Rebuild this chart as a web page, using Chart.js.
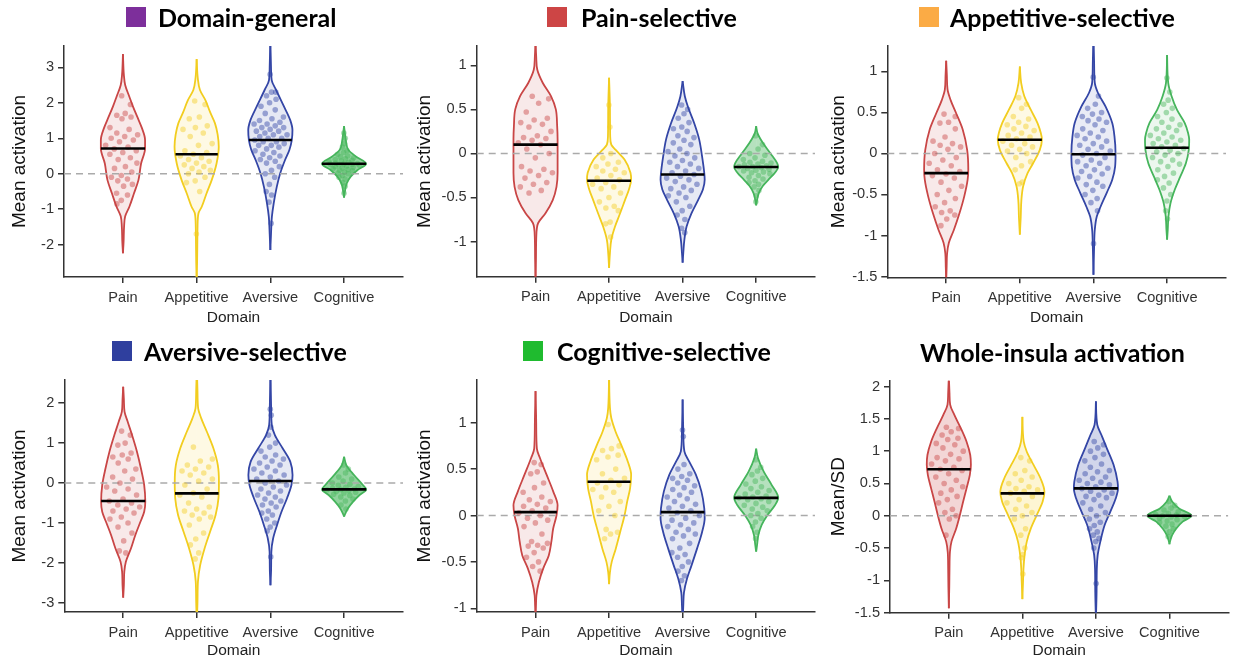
<!DOCTYPE html>
<html>
<head>
<meta charset="utf-8">
<script src="https://cdn.jsdelivr.net/npm/chart.js@4"></script>
<style>
  body { margin: 0; background: #fff; width: 1238px; height: 661px; position: relative; overflow: hidden; }
  canvas { position: absolute; }
  .ttl { position: absolute; height: 30px; line-height: 30px; display: flex; align-items: center;
         font: bold 25px Lato, sans-serif; color: #000; white-space: nowrap; }
  .sq { display: inline-block; width: 20px; height: 20px; }
</style>
</head>
<body>
<script>
// categories on the x axis
const domains = ['Pain', 'Appetitive', 'Aversive', 'Cognitive'];

const panelTitles = ['Domain-general', 'Pain-selective', 'Appetitive-selective',
                     'Aversive-selective', 'Cognitive-selective', 'Whole-insula activation'];
const yTitles = ['Mean activation', 'Mean activation', 'Mean activation',
                 'Mean activation', 'Mean activation', 'Mean/SD'];

// y axis ranges and tick values per panel
const yRanges = [[-2.91, 3.6], [-1.4, 1.22], [-1.51, 1.31], [-3.23, 2.58], [-1.04, 1.46], [-1.5, 2.09]];
const yTicks = [
  [-2, -1, 0, 1, 2, 3],
  [-1, -0.5, 0, 0.5, 1],
  [-1.5, -1, -0.5, 0, 0.5, 1],
  [-3, -2, -1, 0, 1, 2],
  [-1, -0.5, 0, 0.5, 1],
  [-1.5, -1, -0.5, 0, 0.5, 1, 1.5, 2]
];

// medians (black bars), order Pain, Appetitive, Aversive, Cognitive
const medians = [
  [0.71, 0.55, 0.95, 0.28],
  [0.10, -0.31, -0.24, -0.155],
  [-0.24, 0.167, -0.01, 0.07],
  [-0.45, -0.26, 0.05, -0.16],
  [0.036, 0.364, 0.036, 0.19],
  [0.72, 0.346, 0.424, 0.0]
];

// violin density outlines: [value, relative half width]
const shapesGeneral = [
  [[-2.24,0],[-1.9,0.03],[-1.5,0.05],[-1.2,0.1],[-0.93,0.29],[-0.55,0.5],[-0.18,0.7],[0.29,0.82],[0.71,1.0],[0.95,1.0],[1.3,0.85],[1.6,0.65],[1.9,0.45],[2.17,0.29],[2.5,0.1],[2.8,0.04],[3.37,0]],
  [[-3.0,0],[-2.5,0.02],[-2.0,0.03],[-1.5,0.04],[-1.12,0.08],[-0.93,0.23],[-0.55,0.45],[-0.18,0.68],[0.29,0.9],[0.76,1.0],[1.1,0.95],[1.42,0.83],[1.75,0.6],[2.07,0.4],[2.36,0.15],[2.7,0.05],[3.23,0]],
  [[-2.15,0],[-1.7,0.03],[-1.21,0.07],[-0.84,0.15],[-0.37,0.29],[0.0,0.44],[0.38,0.66],[0.67,0.86],[0.95,0.97],[1.23,1.0],[1.51,0.9],[1.89,0.62],[2.36,0.26],[2.64,0.06],[3.0,0.03],[3.75,0]],
  [[-0.67,0],[-0.46,0.05],[-0.27,0.12],[-0.08,0.3],[0.1,0.6],[0.28,1.0],[0.48,0.55],[0.67,0.2],[0.95,0.08],[1.14,0.04],[1.34,0]]
];
const shapesPain = [
  [[-1.45,0],[-1.2,0.02],[-0.98,0.03],[-0.85,0.06],[-0.79,0.12],[-0.68,0.45],[-0.53,0.78],[-0.38,0.95],[-0.22,1.0],[0.16,1.0],[0.31,0.98],[0.5,0.92],[0.65,0.7],[0.8,0.33],[0.95,0.08],[1.1,0.03],[1.32,0]],
  [[-1.3,0],[-1.13,0.04],[-0.98,0.1],[-0.83,0.27],[-0.68,0.5],[-0.53,0.72],[-0.41,0.9],[-0.3,1.0],[-0.22,0.97],[-0.07,0.7],[0.04,0.3],[0.1,0.1],[0.2,0.05],[0.5,0.04],[0.86,0]],
  [[-1.24,0],[-1.13,0.03],[-0.98,0.08],[-0.83,0.18],[-0.68,0.4],[-0.53,0.7],[-0.41,0.92],[-0.3,1.0],[-0.22,0.98],[-0.03,0.88],[0.16,0.75],[0.34,0.53],[0.53,0.24],[0.65,0.1],[0.82,0]],
  [[-0.59,0],[-0.53,0.04],[-0.45,0.12],[-0.37,0.3],[-0.3,0.55],[-0.22,0.85],[-0.155,1.0],[-0.11,0.95],[0.0,0.65],[0.12,0.3],[0.23,0.06],[0.31,0]]
];
const shapesAppetitive = [
  [[-1.55,0],[-1.38,0.02],[-1.22,0.04],[-1.09,0.12],[-0.93,0.35],[-0.73,0.6],[-0.52,0.82],[-0.32,0.97],[-0.2,1.0],[0.04,0.95],[0.29,0.75],[0.49,0.45],[0.65,0.2],[0.78,0.06],[0.95,0.03],[1.13,0]],
  [[-0.99,0],[-0.78,0.04],[-0.57,0.07],[-0.4,0.15],[-0.24,0.35],[-0.12,0.6],[0.04,0.9],[0.17,1.0],[0.25,0.95],[0.37,0.8],[0.53,0.5],[0.7,0.2],[0.86,0.06],[1.06,0]],
  [[-1.48,0],[-1.13,0.03],[-0.93,0.06],[-0.77,0.15],[-0.65,0.32],[-0.48,0.6],[-0.32,0.85],[-0.16,0.98],[0.0,1.0],[0.21,0.95],[0.37,0.85],[0.57,0.55],[0.74,0.2],[0.86,0.06],[1.1,0.03],[1.45,0]],
  [[-1.05,0],[-0.93,0.03],[-0.77,0.06],[-0.61,0.15],[-0.44,0.35],[-0.28,0.6],[-0.12,0.85],[0.04,0.98],[0.17,1.0],[0.25,0.95],[0.37,0.8],[0.53,0.45],[0.7,0.2],[0.86,0.05],[1.2,0]]
];
const shapesAversive = [
  [[-2.87,0],[-2.56,0.03],[-2.22,0.05],[-1.97,0.12],[-1.64,0.35],[-1.3,0.55],[-0.97,0.78],[-0.72,0.95],[-0.47,1.0],[-0.05,0.95],[0.37,0.8],[0.79,0.62],[1.2,0.4],[1.54,0.2],[1.79,0.06],[2.1,0.03],[2.41,0]],
  [[-3.5,0],[-2.97,0.03],[-2.47,0.05],[-2.06,0.15],[-1.64,0.35],[-1.22,0.6],[-0.8,0.85],[-0.38,0.98],[0.03,1.0],[0.45,0.95],[0.87,0.75],[1.29,0.45],[1.62,0.2],[1.87,0.06],[2.3,0.03],[2.9,0]],
  [[-2.56,0],[-2.14,0.03],[-1.72,0.04],[-1.39,0.12],[-1.05,0.3],[-0.72,0.5],[-0.38,0.75],[-0.05,0.95],[0.2,1.0],[0.53,0.9],[0.87,0.55],[1.2,0.2],[1.45,0.06],[1.9,0.03],[2.8,0]],
  [[-0.84,0],[-0.76,0.06],[-0.63,0.18],[-0.47,0.4],[-0.3,0.7],[-0.16,1.0],[-0.05,0.85],[0.2,0.45],[0.45,0.1],[0.66,0]]
];
const shapesCognitive = [
  [[-1.1,0],[-0.97,0.02],[-0.86,0.04],[-0.72,0.15],[-0.57,0.35],[-0.43,0.6],[-0.28,0.72],[-0.14,0.8],[0.0,0.95],[0.11,1.0],[0.26,0.8],[0.44,0.5],[0.62,0.2],[0.72,0.06],[1.0,0.03],[1.34,0]],
  [[-0.74,0],[-0.61,0.04],[-0.5,0.12],[-0.36,0.3],[-0.18,0.5],[0.0,0.7],[0.15,0.82],[0.29,0.95],[0.44,1.0],[0.58,0.85],[0.76,0.55],[0.9,0.3],[1.05,0.1],[1.16,0.04],[1.55,0]],
  [[-1.15,0],[-0.97,0.03],[-0.83,0.06],[-0.68,0.2],[-0.54,0.4],[-0.36,0.65],[-0.18,0.88],[-0.03,1.0],[0.08,0.98],[0.26,0.85],[0.44,0.6],[0.58,0.3],[0.69,0.08],[0.9,0.03],[1.25,0]],
  [[-0.39,0],[-0.32,0.04],[-0.21,0.1],[-0.1,0.25],[0.0,0.5],[0.11,0.85],[0.19,1.0],[0.33,0.7],[0.47,0.35],[0.62,0.08],[0.72,0]]
];
const shapesWhole = [
  [[-1.43,0],[-1.1,0.02],[-0.82,0.03],[-0.56,0.05],[-0.4,0.12],[-0.2,0.33],[0.01,0.5],[0.22,0.65],[0.42,0.8],[0.63,0.95],[0.79,1.0],[0.94,0.97],[1.15,0.8],[1.35,0.55],[1.56,0.25],[1.72,0.06],[1.9,0.03],[2.15,0]],
  [[-1.29,0],[-1.02,0.03],[-0.82,0.05],[-0.61,0.1],[-0.4,0.2],[-0.2,0.38],[0.01,0.65],[0.22,0.92],[0.37,1.0],[0.58,0.82],[0.79,0.5],[0.99,0.2],[1.15,0.06],[1.53,0]],
  [[-1.6,0],[-1.18,0.03],[-0.82,0.04],[-0.61,0.08],[-0.4,0.2],[-0.14,0.4],[0.06,0.65],[0.27,0.9],[0.42,1.0],[0.53,0.98],[0.79,0.8],[1.04,0.5],[1.25,0.25],[1.41,0.06],[1.77,0]],
  [[-0.44,0],[-0.38,0.04],[-0.3,0.12],[-0.2,0.3],[-0.09,0.6],[0.0,1.0],[0.11,0.45],[0.22,0.12],[0.31,0]]
];

// individual subject values (a readable subset of the dots)
const pointsGeneral = [
  [2.2,1.95,1.7,1.65,1.6,1.55,1.3,1.25,1.15,1.1,1.05,1.0,0.95,0.9,0.8,0.75,0.7,0.65,0.6,0.55,0.45,0.4,0.3,0.2,0.15,0.05,-0.05,-0.1,-0.15,-0.2,-0.3,-0.35,-0.55,-0.6,-0.75,-0.85],
  [2.05,1.95,1.6,1.55,1.35,1.3,1.25,1.15,1.05,0.85,0.8,0.65,0.6,0.55,0.5,0.45,0.4,0.35,0.3,0.25,0.2,0.15,0.1,0.05,0.0,-0.1,-0.2,-0.25,-0.5,-1.7],
  [2.8,2.3,2.3,2.2,2.1,2.0,1.9,1.8,1.7,1.6,1.55,1.5,1.45,1.4,1.4,1.35,1.3,1.3,1.25,1.2,1.2,1.15,1.1,1.1,1.05,1.0,1.0,0.95,0.9,0.9,0.85,0.8,0.8,0.75,0.7,0.65,0.6,0.55,0.5,0.45,0.4,0.35,0.3,0.2,0.1,0.0,-0.1,-0.3,-0.5,-0.6,-0.8,-1.4],
  [1.15,1.0,0.85,0.75,0.65,0.6,0.55,0.5,0.48,0.45,0.42,0.4,0.38,0.36,0.34,0.32,0.3,0.29,0.28,0.27,0.26,0.25,0.24,0.22,0.2,0.18,0.16,0.14,0.12,0.1,0.08,0.05,0.02,0.0,-0.05,-0.1,-0.15,-0.25,-0.35,-0.55]
];
const pointsPain = [
  [0.65,0.62,0.57,0.47,0.4,0.38,0.35,0.33,0.3,0.25,0.2,0.18,0.17,0.15,0.12,0.1,0.05,0.0,-0.05,-0.15,-0.18,-0.2,-0.22,-0.25,-0.28,-0.33,-0.35,-0.38,-0.42,-0.45],
  [0.55,0.3,0.0,-0.05,-0.1,-0.12,-0.15,-0.18,-0.2,-0.22,-0.25,-0.28,-0.3,-0.33,-0.35,-0.38,-0.4,-0.45,-0.5,-0.55,-0.6,-0.62,-0.65,-0.78,-0.8,-0.95],
  [0.55,0.5,0.45,0.4,0.35,0.3,0.28,0.25,0.2,0.18,0.15,0.12,0.1,0.05,0.02,0.0,-0.03,-0.05,-0.08,-0.1,-0.12,-0.15,-0.17,-0.2,-0.22,-0.24,-0.26,-0.28,-0.3,-0.32,-0.35,-0.38,-0.4,-0.42,-0.45,-0.48,-0.5,-0.55,-0.6,-0.65,-0.7,-0.75,-0.85,-0.9],
  [0.2,0.1,0.05,0.0,-0.02,-0.05,-0.07,-0.09,-0.1,-0.11,-0.12,-0.13,-0.14,-0.15,-0.15,-0.16,-0.17,-0.18,-0.19,-0.2,-0.21,-0.22,-0.23,-0.25,-0.27,-0.29,-0.31,-0.33,-0.35,-0.38,-0.42,-0.48,-0.55]
];
const pointsAppetitive = [
  [0.48,0.45,0.38,0.37,0.3,0.2,0.15,0.12,0.1,0.08,0.05,0.0,-0.05,-0.08,-0.12,-0.15,-0.2,-0.22,-0.25,-0.27,-0.3,-0.35,-0.4,-0.45,-0.5,-0.55,-0.6,-0.65,-0.7,-0.72,-0.75,-0.8,-0.88],
  [0.68,0.6,0.55,0.45,0.42,0.38,0.35,0.33,0.3,0.28,0.25,0.22,0.2,0.18,0.15,0.12,0.1,0.08,0.05,0.03,0.0,-0.05,-0.1,-0.15,-0.2,-0.35,-0.37],
  [0.93,0.7,0.6,0.55,0.5,0.48,0.45,0.42,0.4,0.38,0.35,0.3,0.28,0.25,0.22,0.2,0.18,0.15,0.12,0.1,0.08,0.05,0.03,0.0,-0.02,-0.05,-0.08,-0.1,-0.12,-0.15,-0.18,-0.2,-0.22,-0.25,-0.28,-0.3,-0.35,-0.38,-0.4,-0.45,-0.5,-0.55,-0.6,-0.7,-1.1],
  [0.92,0.75,0.65,0.6,0.55,0.5,0.45,0.42,0.38,0.35,0.32,0.3,0.28,0.25,0.22,0.2,0.18,0.16,0.14,0.12,0.1,0.08,0.06,0.04,0.02,0.0,-0.02,-0.05,-0.08,-0.1,-0.13,-0.16,-0.2,-0.24,-0.28,-0.32,-0.36,-0.42,-0.5,-0.58,-0.7,-0.8]
];
const pointsAversive = [
  [1.3,1.2,1.0,0.95,0.75,0.7,0.65,0.6,0.5,0.35,0.3,0.15,0.1,0.0,-0.1,-0.15,-0.2,-0.3,-0.4,-0.45,-0.5,-0.55,-0.6,-0.65,-0.7,-0.75,-0.85,-0.9,-1.0,-1.1,-1.25,-1.45,-1.7,-1.75],
  [0.9,0.6,0.55,0.45,0.4,0.35,0.3,0.25,0.2,0.1,0.05,-0.05,-0.15,-0.25,-0.3,-0.35,-0.5,-0.6,-0.65,-0.7,-0.75,-0.8,-0.85,-0.9,-1.05,-1.25,-1.4,-1.55,-1.75,-1.9],
  [1.85,1.7,1.4,1.2,1.0,0.9,0.8,0.7,0.65,0.6,0.55,0.5,0.45,0.4,0.35,0.3,0.25,0.2,0.15,0.1,0.05,0.0,-0.05,-0.1,-0.15,-0.2,-0.25,-0.3,-0.35,-0.4,-0.45,-0.5,-0.55,-0.6,-0.7,-0.75,-0.8,-0.9,-1.0,-1.1,-1.2,-1.85],
  [0.45,0.35,0.25,0.15,0.1,0.05,0.0,-0.03,-0.06,-0.09,-0.11,-0.13,-0.15,-0.16,-0.17,-0.19,-0.21,-0.23,-0.25,-0.28,-0.31,-0.35,-0.4,-0.45,-0.55,-0.65]
];
const pointsCognitive = [
  [0.57,0.55,0.47,0.45,0.35,0.3,0.25,0.2,0.17,0.15,0.12,0.1,0.08,0.05,0.03,0.0,-0.03,-0.05,-0.08,-0.12,-0.2,-0.28,-0.3,-0.32,-0.33,-0.35,-0.4,-0.45,-0.5,-0.55,-0.6],
  [0.98,0.75,0.72,0.7,0.65,0.63,0.6,0.5,0.45,0.4,0.38,0.35,0.33,0.3,0.28,0.25,0.2,0.15,0.1,0.05,0.0,-0.15,-0.18,-0.2,-0.25],
  [0.92,0.85,0.55,0.5,0.45,0.42,0.4,0.38,0.35,0.32,0.3,0.28,0.25,0.22,0.2,0.18,0.15,0.12,0.1,0.08,0.05,0.03,0.0,-0.03,-0.05,-0.08,-0.1,-0.12,-0.15,-0.18,-0.2,-0.22,-0.25,-0.3,-0.35,-0.4,-0.42,-0.45,-0.5,-0.55,-0.6,-0.65,-0.7],
  [0.6,0.52,0.48,0.44,0.4,0.37,0.34,0.31,0.29,0.27,0.25,0.23,0.21,0.2,0.19,0.18,0.17,0.15,0.13,0.11,0.09,0.07,0.05,0.02,0.0,-0.03,-0.07,-0.12,-0.18,-0.25]
];
const pointsWhole = [
  [1.37,1.35,1.3,1.25,1.2,1.18,1.12,1.1,1.05,1.0,0.95,0.9,0.88,0.85,0.8,0.75,0.72,0.7,0.65,0.6,0.55,0.5,0.45,0.4,0.35,0.3,0.25,0.2,0.1,0.05,0.0,-0.05,-0.3],
  [0.9,0.85,0.7,0.65,0.6,0.55,0.5,0.45,0.42,0.4,0.38,0.35,0.3,0.25,0.2,0.15,0.1,0.05,0.0,-0.05,-0.2,-0.3,-0.5,-0.6,-0.65,-0.9],
  [1.15,1.1,1.05,1.0,0.95,0.9,0.85,0.8,0.75,0.7,0.68,0.65,0.6,0.58,0.55,0.52,0.5,0.48,0.45,0.42,0.4,0.38,0.35,0.32,0.3,0.28,0.25,0.2,0.15,0.1,0.05,0.0,-0.05,-0.1,-0.15,-0.2,-0.25,-0.3,-0.35,-0.4,-0.5,-1.05],
  [0.22,0.16,0.12,0.09,0.06,0.04,0.02,0.01,0.0,-0.01,-0.02,-0.04,-0.06,-0.08,-0.1,-0.13,-0.16,-0.2,-0.25,-0.32]
];

const panelShapes = [shapesGeneral, shapesPain, shapesAppetitive, shapesAversive, shapesCognitive, shapesWhole];
const panelPoints = [pointsGeneral, pointsPain, pointsAppetitive, pointsAversive, pointsCognitive, pointsWhole];

// ---- styles and layout ----
const lineColors = ['#c94646', '#f2cd1f', '#3446a6', '#46b55c'];
const rgb = ['201,70,70', '244,206,36', '52,70,166', '70,181,92'];
const squareColors = ['#7d2f9b', '#cd4545', '#fbab45', '#2f3f9e', '#1fbb2f', null];
// fill alpha per panel for [Pain, Appetitive, Aversive, Cognitive]
const fillAlpha = [
  [0.12, 0.12, 0.12, 0.6],
  [0.12, 0.12, 0.12, 0.4],
  [0.12, 0.12, 0.1, 0.1],
  [0.12, 0.12, 0.12, 0.6],
  [0.12, 0.12, 0.12, 0.4],
  [0.22, 0.2, 0.22, 0.6]
];
const HALF = 0.3;   // max half width of a violin in category units
const XMIN = 0.2, XMAX = 4.8;

const boxes = [
  { left: 0,   top: 0,   w: 410, h: 330, plot: [64, 46, 403, 277],       ttl: [126, 2, 12],   ytp: 8 },
  { left: 410, top: 0,   w: 413, h: 330, plot: [476.7, 46, 815, 276.7],  ttl: [547, 2, 14],   ytp: 3 },
  { left: 825, top: 0,   w: 413, h: 330, plot: [887.3, 46, 1226, 277.3], ttl: [919, 2, 11],   ytp: 2 },
  { left: 0,   top: 330, w: 410, h: 331, plot: [64.3, 380, 403, 612],    ttl: [112, 336, 12], ytp: 8 },
  { left: 410, top: 330, w: 413, h: 331, plot: [476.7, 380, 815, 612],   ttl: [523, 336, 14], ytp: 3 },
  { left: 825, top: 330, w: 413, h: 331, plot: [890, 380.7, 1228.3, 612.7], ttl: [920, 337, 0], ytp: 2 }
];

const FONT = "'Liberation Sans', Arial, Helvetica, sans-serif";

function widthAt(shape, v) {
  if (v <= shape[0][0] || v >= shape[shape.length - 1][0]) return 0;
  for (let i = 1; i < shape.length; i++) {
    if (v <= shape[i][0]) {
      const a = shape[i - 1], b = shape[i];
      return a[1] + (b[1] - a[1]) * (v - a[0]) / (b[0] - a[0]);
    }
  }
  return 0;
}

function makePanel(p) {
  const b = boxes[p];
  const cv = document.createElement('canvas');
  cv.width = b.w; cv.height = b.h;
  cv.style.left = b.left + 'px'; cv.style.top = b.top + 'px';
  document.body.appendChild(cv);

  // title with coloured square
  const t = document.createElement('div');
  t.className = 'ttl';
  t.style.left = b.ttl[0] + 'px';
  t.style.top = b.ttl[1] + 'px';
  if (squareColors[p]) {
    const sq = document.createElement('span');
    sq.className = 'sq';
    sq.style.background = squareColors[p];
    sq.style.marginRight = b.ttl[2] + 'px';
    t.appendChild(sq);
  }
  t.appendChild(document.createTextNode(panelTitles[p]));
  document.body.appendChild(t);

  const shapes = panelShapes[p];
  const pts = panelPoints[p];
  const medianSets = [], pointSets = [], violinSets = [];

  domains.forEach((d, k) => {
    const c = k + 1;
    const shape = shapes[k];
    const mw = widthAt(shape, medians[p][k]) * HALF;
    medianSets.push({
      data: [{ x: c - mw, y: medians[p][k] }, { x: c + mw, y: medians[p][k] }],
      borderColor: '#000', borderWidth: 2.6, pointRadius: 0, fill: false
    });
    pointSets.push({
      data: pts[k].map((v, i) => {
        const s = ((i * 0.618034 + 0.37) % 1) * 2 - 1;
        return { x: c + s * widthAt(shape, v) * HALF * 0.82, y: v };
      }),
      showLine: false, pointRadius: 2.8, pointBorderWidth: 0,
      pointBackgroundColor: 'rgba(' + rgb[k] + ',0.45)', fill: false
    });
    [-1, 1].forEach(side => {
      violinSets.push({
        data: shape.map(q => ({ x: c + side * q[1] * HALF, y: q[0] })),
        borderColor: lineColors[k], borderWidth: 1.8, pointRadius: 0,
        cubicInterpolationMode: 'monotone',
        backgroundColor: 'rgba(' + rgb[k] + ',' + fillAlpha[p][k] + ')',
        fill: { value: c }
      });
    });
  });

  const zeroLine = {
    data: [{ x: XMIN, y: 0 }, { x: XMAX, y: 0 }],
    borderColor: '#aaaaaa', borderWidth: 1.6, borderDash: [7, 5], pointRadius: 0, fill: false
  };

  // first dataset is drawn on top
  const datasets = [...medianSets, ...pointSets, zeroLine, ...violinSets];

  const L = b.plot[0] - b.left, T = b.plot[1] - b.top;
  const R = b.plot[2] - b.left, B = b.plot[3] - b.top;

  new Chart(cv, {
    type: 'line',
    data: { datasets },
    options: {
      indexAxis: 'y',
      responsive: false,
      animation: false,
      events: [],
      layout: { padding: { top: T, right: b.w - R, left: 0, bottom: 0 } },
      plugins: { legend: { display: false }, tooltip: { enabled: false } },
      scales: {
        x: {
          type: 'linear', min: XMIN, max: XMAX,
          afterFit: s => { s.height = b.h - B; },
          afterBuildTicks: s => { s.ticks = domains.map((d, i) => ({ value: i + 1 })); },
          ticks: { callback: v => domains[v - 1], font: { family: FONT, size: 14.6 }, color: '#333', padding: 6, maxRotation: 0 },
          grid: { drawOnChartArea: false, drawTicks: true, tickLength: 6, color: '#333', lineWidth: 1.5 },
          border: { display: true, color: '#333', width: 1.5 },
          title: { display: true, text: 'Domain', font: { family: FONT, size: 15.5 }, color: '#222', padding: { top: 0, bottom: p < 3 ? 3 : 1 } }
        },
        y: {
          type: 'linear', min: yRanges[p][0], max: yRanges[p][1],
          afterFit: s => { s.width = L; },
          afterBuildTicks: s => { s.ticks = yTicks[p].map(v => ({ value: v })); },
          ticks: { callback: v => String(v), font: { family: FONT, size: 14.6 }, color: '#333', padding: 4 },
          grid: { drawOnChartArea: false, drawTicks: true, tickLength: 6, color: '#333', lineWidth: 1.5 },
          border: { display: true, color: '#333', width: 1.5 },
          title: { display: true, text: yTitles[p], font: { family: FONT, size: 19 }, color: '#111', padding: { top: b.ytp, bottom: 0 } }
        }
      }
    }
  });
}

for (let p = 0; p < 6; p++) makePanel(p);
</script>
</body>
</html>
